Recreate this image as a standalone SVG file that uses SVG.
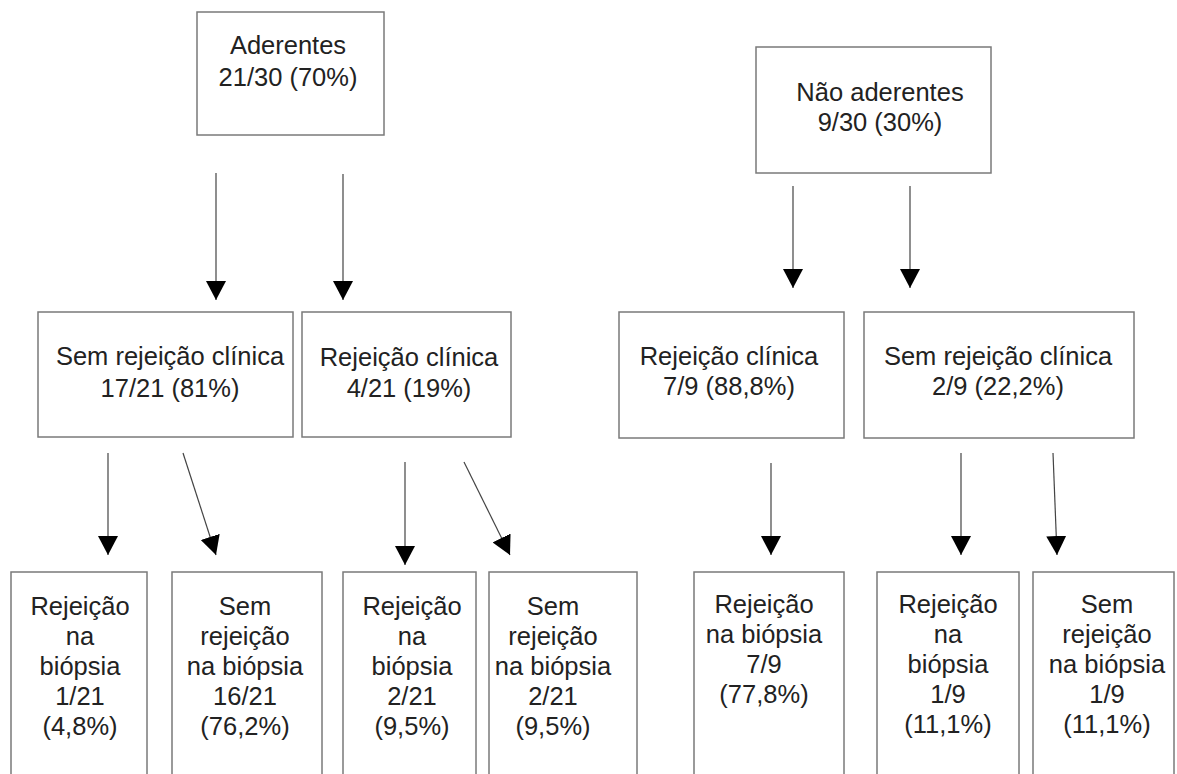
<svg xmlns="http://www.w3.org/2000/svg" width="1177" height="774" viewBox="0 0 1177 774">
<style>
  .box { fill: #ffffff; stroke: #7a7a7a; stroke-width: 1.5; }
  .lbl { font-family: "Liberation Sans", Arial, sans-serif; font-size: 25.5px; fill: #222222; text-anchor: middle; }
  .conn { stroke: #444444; stroke-width: 1.2; fill: none; marker-end: url(#head); }
</style>
<defs>
  <marker id="head" viewBox="0 0 19 20" refX="19" refY="10" markerWidth="19" markerHeight="20" markerUnits="userSpaceOnUse" orient="auto">
    <path d="M0,0 L19,10 L0,20 z" fill="#000000"/>
  </marker>
</defs>
<rect width="1177" height="774" fill="#ffffff"/>

<g id="connectors">
  <line class="conn" x1="216" y1="173" x2="216" y2="300"/>
  <line class="conn" x1="343" y1="174" x2="343" y2="300"/>
  <line class="conn" x1="793" y1="186" x2="793" y2="288"/>
  <line class="conn" x1="910" y1="186" x2="910" y2="288"/>
  <line class="conn" x1="108" y1="453" x2="108" y2="555"/>
  <line class="conn" x1="183" y1="453" x2="216" y2="555"/>
  <line class="conn" x1="405" y1="462" x2="405" y2="565"/>
  <line class="conn" x1="464" y1="462" x2="510" y2="555"/>
  <line class="conn" x1="771" y1="463" x2="771" y2="555"/>
  <line class="conn" x1="961" y1="453" x2="961" y2="555"/>
  <line class="conn" x1="1053" y1="453" x2="1057" y2="555"/>
</g>

<g id="aderentes">
  <rect class="box" x="197" y="12" width="187" height="123"/>
  <text class="lbl"><tspan x="288" y="54">Aderentes</tspan><tspan x="288" y="86">21/30 (70%)</tspan></text>
</g>
<g id="nao-aderentes">
  <rect class="box" x="756" y="47" width="235" height="126"/>
  <text class="lbl"><tspan x="880" y="101">Não aderentes</tspan><tspan x="880" y="131">9/30 (30%)</tspan></text>
</g>

<g id="a-sem-rejeicao-clinica">
  <rect class="box" x="38" y="312" width="255" height="125"/>
  <text class="lbl"><tspan x="170" y="365">Sem rejeição clínica</tspan><tspan x="170" y="397">17/21 (81%)</tspan></text>
</g>
<g id="a-rejeicao-clinica">
  <rect class="box" x="302" y="312" width="209" height="125"/>
  <text class="lbl"><tspan x="409" y="366">Rejeição clínica</tspan><tspan x="409" y="397">4/21 (19%)</tspan></text>
</g>
<g id="na-rejeicao-clinica">
  <rect class="box" x="619" y="312" width="225" height="126"/>
  <text class="lbl"><tspan x="729" y="365">Rejeição clínica</tspan><tspan x="729" y="395">7/9 (88,8%)</tspan></text>
</g>
<g id="na-sem-rejeicao-clinica">
  <rect class="box" x="864" y="312" width="270" height="126"/>
  <text class="lbl"><tspan x="998" y="365">Sem rejeição clínica</tspan><tspan x="998" y="395">2/9 (22,2%)</tspan></text>
</g>

<g id="b1">
  <rect class="box" x="11" y="572" width="136" height="220"/>
  <text class="lbl"><tspan x="80" y="615">Rejeição</tspan><tspan x="80" y="645">na</tspan><tspan x="80" y="675">biópsia</tspan><tspan x="80" y="705">1/21</tspan><tspan x="80" y="735">(4,8%)</tspan></text>
</g>
<g id="b2">
  <rect class="box" x="172" y="572" width="150" height="220"/>
  <text class="lbl"><tspan x="245" y="615">Sem</tspan><tspan x="245" y="645">rejeição</tspan><tspan x="245" y="675">na biópsia</tspan><tspan x="245" y="705">16/21</tspan><tspan x="245" y="735">(76,2%)</tspan></text>
</g>
<g id="b3">
  <rect class="box" x="343" y="572" width="133" height="220"/>
  <text class="lbl"><tspan x="412" y="615">Rejeição</tspan><tspan x="412" y="645">na</tspan><tspan x="412" y="675">biópsia</tspan><tspan x="412" y="705">2/21</tspan><tspan x="412" y="735">(9,5%)</tspan></text>
</g>
<g id="b4">
  <rect class="box" x="489" y="572" width="148" height="220"/>
  <text class="lbl"><tspan x="553" y="615">Sem</tspan><tspan x="553" y="645">rejeição</tspan><tspan x="553" y="675">na biópsia</tspan><tspan x="553" y="705">2/21</tspan><tspan x="553" y="735">(9,5%)</tspan></text>
</g>
<g id="b5">
  <rect class="box" x="694" y="572" width="150" height="220"/>
  <text class="lbl"><tspan x="764" y="613">Rejeição</tspan><tspan x="764" y="643">na biópsia</tspan><tspan x="764" y="673">7/9</tspan><tspan x="764" y="703">(77,8%)</tspan></text>
</g>
<g id="b6">
  <rect class="box" x="877" y="572" width="142" height="220"/>
  <text class="lbl"><tspan x="948" y="613">Rejeição</tspan><tspan x="948" y="643">na</tspan><tspan x="948" y="673">biópsia</tspan><tspan x="948" y="703">1/9</tspan><tspan x="948" y="733">(11,1%)</tspan></text>
</g>
<g id="b7">
  <rect class="box" x="1033" y="572" width="141" height="220"/>
  <text class="lbl"><tspan x="1107" y="613">Sem</tspan><tspan x="1107" y="643">rejeição</tspan><tspan x="1107" y="673">na biópsia</tspan><tspan x="1107" y="703">1/9</tspan><tspan x="1107" y="733">(11,1%)</tspan></text>
</g>
</svg>
